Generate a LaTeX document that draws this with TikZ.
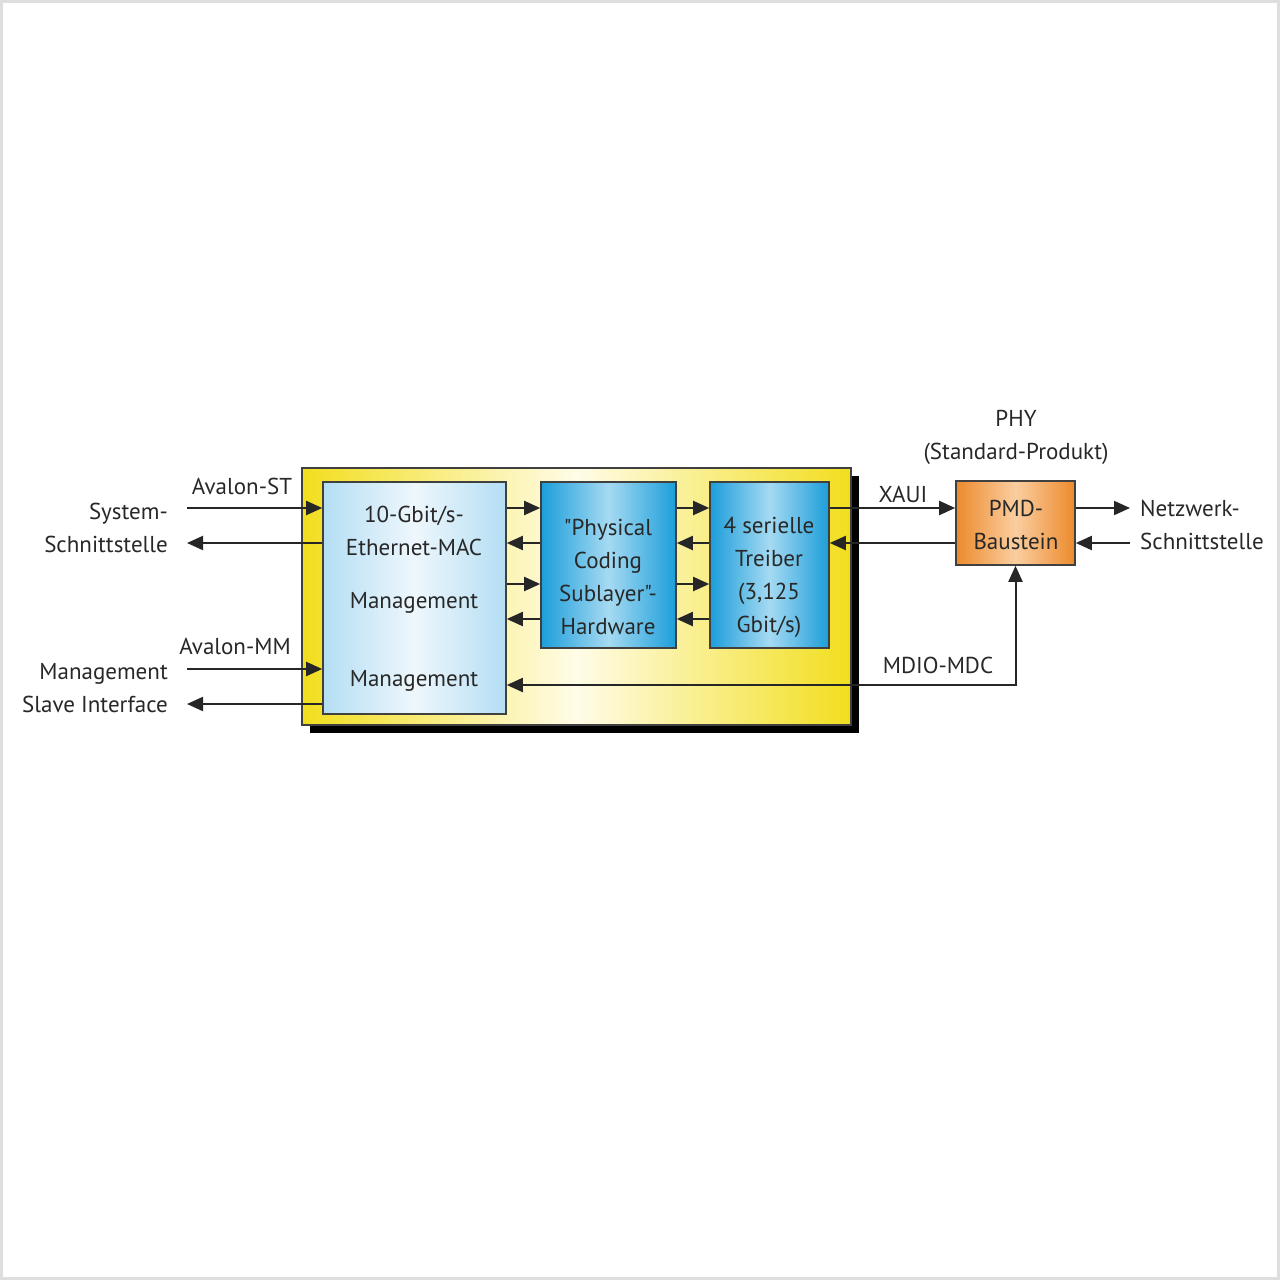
\documentclass[tikz,border=0pt]{standalone}
\usepackage{fontspec}
\setmainfont{PT Sans}[Ligatures=TeXOff]
\usetikzlibrary{arrows.meta, positioning}
\definecolor{framegray}{RGB}{222,222,222}
\definecolor{txtgray}{RGB}{40,40,40}
\definecolor{yellowedge}{RGB}{242,222,30}
\definecolor{yellowcore}{RGB}{255,252,232}
\definecolor{macedge}{RGB}{180,222,244}
\definecolor{maccore}{RGB}{238,247,252}
\definecolor{pcsedge}{RGB}{28,158,218}
\definecolor{pcscore}{RGB}{165,218,242}
\definecolor{pmdedge}{RGB}{236,138,44}
\definecolor{pmdcore}{RGB}{250,206,160}

\begin{document}
\begin{tikzpicture}[
    x=1pt, y=-1pt,
    >={Triangle[length=16pt, width=14pt]},
    block/.style={
        rectangle, draw=black!75, line width=1.6pt, inner sep=0pt
    },
    txt/.style={
        font=\fontsize{23}{33}\selectfont, text=txtgray, inner sep=0pt, align=center
    },
    arrow/.style={->, line width=2pt, color=black!85}
]

% Canvas
\useasboundingbox (0,0) rectangle (1280,1280);
\draw[framegray, fill=white, line width=3pt] (1.5,1.5) rectangle (1278.5,1278.5);

% Row levels and free ends
\coordinate (r1) at (0,508);
\coordinate (r2) at (0,543);
\coordinate (r3) at (0,584);
\coordinate (r4) at (0,619);
\coordinate (r5) at (0,669);
\coordinate (r6) at (0,704);
\coordinate (r7) at (0,685);
\coordinate (lft) at (187,0);
\coordinate (rgt) at (1130,0);

% FPGA frame
\node[fill=black, minimum width=549pt, minimum height=257pt, inner sep=0pt] (fpgashadow) at (584.5,604.5) {};
\node[block, minimum width=549pt, minimum height=257pt, left color=yellowedge, right color=yellowedge, middle color=yellowcore] (fpga) at (576.5,596.5) {};

% Blocks
\node[block, minimum width=183pt, minimum height=232pt, left color=macedge, right color=macedge, middle color=maccore] (mac) at (414.5,598) {};
\node[block, minimum width=135pt, minimum height=166pt, left color=pcsedge, right color=pcsedge, middle color=pcscore] (pcs) at (608.5,565) {};
\node[block, minimum width=119pt, minimum height=166pt, left color=pcsedge, right color=pcsedge, middle color=pcscore] (drv) at (769.5,565) {};
\node[block, minimum width=119pt, minimum height=84pt, left color=pmdedge, right color=pmdedge, middle color=pmdcore] (pmd) at (1015.5,523) {};

% Block texts
\node[txt] (macname) at (414,531) {10-Gbit/s-\\Ethernet-MAC};
\node[txt] (macmgmt) at (414,603) {Management};
\node[txt] (macslave) at (414,681) {Management};
\node[txt] (pcsname) at (608,577) {"Physical\\Coding\\Sublayer"-\\Hardware};
\node[txt] (drvname) at (769,577) {4 serielle\\Treiber\\(3,125\\Gbit/s)};
\node[txt] (pmdname) at (1016,525) {PMD-\\Baustein};
\node[txt] (phyname) at (1016,437) {PHY\\(Standard-Produkt)};

% Arrows
\draw[arrow] (lft |- r1) -- (mac.west |- r1);
\draw[arrow] (mac.west |- r2) -- (lft |- r2);
\draw[arrow] (lft |- r5) -- (mac.west |- r5);
\draw[arrow] (mac.west |- r6) -- (lft |- r6);
\foreach \row in {r1, r3} {
    \draw[arrow] (mac.east |- \row) -- (pcs.west |- \row);
    \draw[arrow] (pcs.east |- \row) -- (drv.west |- \row);
}
\foreach \row in {r2, r4} {
    \draw[arrow] (pcs.west |- \row) -- (mac.east |- \row);
    \draw[arrow] (drv.west |- \row) -- (pcs.east |- \row);
}
\draw[arrow] (drv.east |- r1) -- (pmd.west |- r1);
\draw[arrow] (pmd.west |- r2) -- (drv.east |- r2);
\draw[arrow] (pmd.east |- r1) -- (rgt |- r1);
\draw[arrow] (rgt |- r2) -- (pmd.east |- r2);
\draw[arrow, <->] (mac.east |- r7) -- (pmd.south |- r7) -- (pmd.south);

% Interface labels
\node[txt] (avst) at (242,486) {Avalon-ST};
\node[txt, anchor=east, align=right] (sysif) at (168,528) {System-\\Schnittstelle};
\node[txt] (avmm) at (235,646) {Avalon-MM};
\node[txt, anchor=east, align=right] (mgmtif) at (168,688) {Management\\Slave Interface};
\node[txt] (xaui) at (903,494) {XAUI};
\node[txt] (mdio) at (938,665) {MDIO-MDC};
\node[txt, anchor=west, align=left] (netif) at (1140,525) {Netzwerk-\\Schnittstelle};

\end{tikzpicture}
\end{document}
